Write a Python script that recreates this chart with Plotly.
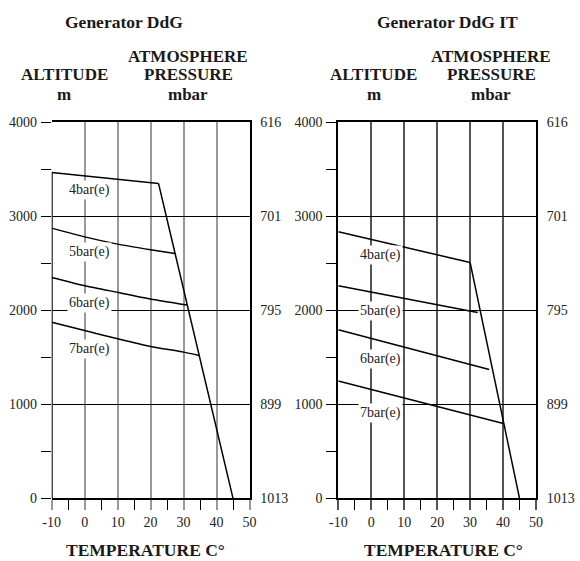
import plotly.graph_objects as go

W, H = 580, 561

# ---------------- data ----------------
temp_range = [-10, 50]
temp_ticks = [-10, 0, 10, 20, 30, 40, 50]
temp_ticktext = ["-10", "0", "10", "20", "30", "40", "50"]
temp_minor = [-5, 5, 15, 25, 35, 45]
alt_range = [0, 4000]
alt_ticks = [0, 1000, 2000, 3000, 4000]
alt_ticktext = ["0", "1000", "2000", "3000", "4000"]
alt_minor = [500, 1500, 2500, 3500]
mbar_labels = ["1013", "899", "795", "701", "616"]

# Generator DdG (left)
ddg_4_t = [-10, 22.4]
ddg_4_a = [3465, 3350]
ddg_lim_t = [22.4, 45]
ddg_lim_a = [3350, 0]
ddg_5_t = [-10, 0, 10, 20, 27.4]
ddg_5_a = [2874, 2781, 2704, 2644, 2604]
ddg_6_t = [-10, 0, 10, 20, 31.0]
ddg_6_a = [2350, 2262, 2191, 2121, 2057]
ddg_7_t = [-10, 0, 10, 20, 30, 34.7]
ddg_7_a = [1873, 1785, 1697, 1615, 1555, 1520]
ddg_labels = ["4bar(e)", "5bar(e)", "6bar(e)", "7bar(e)"]
ddg_label_t = [1.6, 1.6, 1.6, 1.6]
ddg_label_a = [3280, 2615, 2074, 1590]

# Generator DdG IT (right)
it_4_t = [-10, 30]
it_4_a = [2835, 2509]
it_lim_t = [30, 45]
it_lim_a = [2509, 0]
it_5_t = [-10, 32.3]
it_5_a = [2262, 1977]
it_6_t = [-10, 35.8]
it_6_a = [1792, 1371]
it_7_t = [-10, 40.1]
it_7_a = [1247, 795]
it_labels = ["4bar(e)", "5bar(e)", "6bar(e)", "7bar(e)"]
it_label_t = [2.7, 2.7, 2.7, 2.7]
it_label_a = [2591, 1990, 1480, 908]

FONT = "Liberation Serif"


def px_x(p):
    return p / W


def px_y(p):
    return 1 - p / H


fig = go.Figure()

# left chart traces
for t, a in [(ddg_4_t, ddg_4_a), (ddg_lim_t, ddg_lim_a), (ddg_5_t, ddg_5_a),
             (ddg_6_t, ddg_6_a), (ddg_7_t, ddg_7_a)]:
    fig.add_trace(go.Scatter(x=t, y=a, mode="lines",
                             line=dict(color="black", width=1.5, shape="spline", smoothing=0.6),
                             xaxis="x", yaxis="y", showlegend=False, hoverinfo="skip"))
# black left border below 4bar start
fig.add_trace(go.Scatter(x=[temp_range[0], temp_range[0]], y=[alt_range[0], ddg_4_a[0]], mode="lines",
                         line=dict(color="black", width=2), xaxis="x", yaxis="y",
                         showlegend=False, hoverinfo="skip"))

# right chart traces
for t, a in [(it_4_t, it_4_a), (it_lim_t, it_lim_a), (it_5_t, it_5_a),
             (it_6_t, it_6_a), (it_7_t, it_7_a)]:
    fig.add_trace(go.Scatter(x=t, y=a, mode="lines", line=dict(color="black", width=1.5),
                             xaxis="x2", yaxis="y2", showlegend=False, hoverinfo="skip"))

# invisible traces to activate secondary axes
fig.add_trace(go.Scatter(x=[temp_range[0]], y=[alt_range[0]], mode="markers", marker=dict(opacity=0),
                         xaxis="x", yaxis="y3", showlegend=False, hoverinfo="skip"))
fig.add_trace(go.Scatter(x=[temp_range[0]], y=[alt_range[0]], mode="markers", marker=dict(opacity=0),
                         xaxis="x2", yaxis="y4", showlegend=False, hoverinfo="skip"))

xd1 = [px_x(51.7), px_x(249.5)]
xd2 = [px_x(338.3), px_x(536)]
yd = [px_y(498.3), px_y(122.3)]

tickfont = dict(family=FONT, size=14, color="#222")


def xaxis(domain, anchor, gridcolor, gridwidth):
    return dict(domain=domain, anchor=anchor, range=temp_range, tickmode="array",
                tickvals=temp_ticks, ticktext=temp_ticktext,
                ticks="outside", ticklen=10, tickcolor=gridcolor, tickwidth=gridwidth,
                minor=dict(tickmode="array", tickvals=temp_minor, ticks="outside", ticklen=10,
                           tickcolor="black", tickwidth=1, showgrid=False),
                showgrid=True, gridcolor=gridcolor, gridwidth=gridwidth, zeroline=False,
                showline=True, mirror=True, linecolor="black", linewidth=2,
                tickfont=tickfont, ticklabelstandoff=0, automargin=False, fixedrange=True)


def yaxis(domain, anchor, showline):
    return dict(domain=domain, anchor=anchor, range=alt_range, tickmode="array",
                tickvals=alt_ticks, ticktext=alt_ticktext,
                ticks="outside", ticklen=10, tickcolor="black", tickwidth=1,
                minor=dict(tickmode="array", tickvals=alt_minor, ticks="outside", ticklen=10,
                           tickcolor="black", tickwidth=1, showgrid=False),
                showgrid=True, gridcolor="black", gridwidth=1, zeroline=False,
                showline=showline, linecolor="black", linewidth=2,
                tickfont=tickfont, ticklabelstandoff=1, automargin=False, fixedrange=True)


def yaxis_r(overlay, anchor):
    return dict(overlaying=overlay, anchor=anchor, side="right", range=alt_range, tickmode="array",
                tickvals=alt_ticks, ticktext=mbar_labels, ticks="", ticklen=0, showgrid=False,
                zeroline=False, showline=True, linecolor="black", linewidth=2, tickfont=tickfont,
                ticklabelstandoff=6, automargin=False, fixedrange=True)


annotations = []


def text(x, y, s, size=17.5):
    annotations.append(dict(x=px_x(x), y=px_y(y), xref="paper", yref="paper", text="<b>%s</b>" % s,
                            showarrow=False, xanchor="center", yanchor="middle",
                            font=dict(family=FONT, size=size, color="#1a1a1a")))


text(124, 21.7, "Generator DdG")
text(64, 75, "ALTITUDE", 17)
text(64, 94, "m", 17)
text(188, 56, "ATMOSPHERE", 17)
text(188, 75, "PRESSURE", 17)
text(188, 94, "mbar", 17)
text(145.5, 550, "TEMPERATURE C°")

text(447, 21.7, "Generator DdG IT")
text(373.5, 75, "ALTITUDE", 17)
text(373.5, 94, "m", 17)
text(491, 56, "ATMOSPHERE", 17)
text(491, 75, "PRESSURE", 17)
text(491, 94, "mbar", 17)
text(443.5, 550, "TEMPERATURE C°")

for lab, t, a in zip(ddg_labels, ddg_label_t, ddg_label_a):
    annotations.append(dict(x=t, y=a, xref="x", yref="y", text=lab, showarrow=False,
                            font=dict(family=FONT, size=14, color="#222"), bgcolor="white", borderpad=1))
for lab, t, a in zip(it_labels, it_label_t, it_label_a):
    annotations.append(dict(x=t, y=a, xref="x2", yref="y2", text=lab, showarrow=False,
                            font=dict(family=FONT, size=14, color="#222"), bgcolor="white", borderpad=1))

fig.update_layout(
    template="none",
    width=W, height=H, autosize=False,
    margin=dict(l=0, r=0, t=0, b=0, pad=0),
    paper_bgcolor="white", plot_bgcolor="white",
    xaxis=xaxis(xd1, "y", "#999999", 2),
    yaxis=yaxis(yd, "x", False),
    xaxis2=xaxis(xd2, "y2", "#555555", 2),
    yaxis2=yaxis(yd, "x2", True),
    yaxis3=yaxis_r("y", "x"),
    yaxis4=yaxis_r("y2", "x2"),
    annotations=annotations,
    showlegend=False,
    hovermode=False,
)

fig.write_html("out.html", config={"displayModeBar": False, "staticPlot": True},
               post_script="document.body.style.margin='0';document.body.style.overflow='hidden';")
